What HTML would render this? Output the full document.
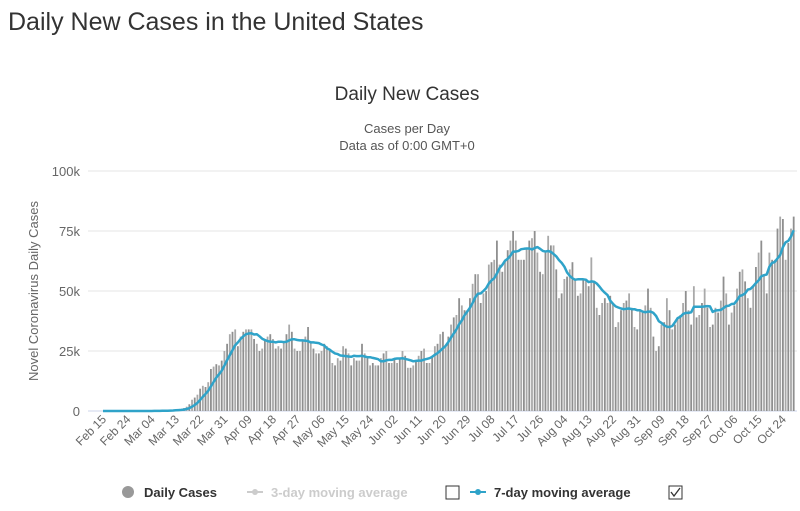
<!DOCTYPE html>
<html><head><meta charset="utf-8">
<style>
body{margin:0;width:800px;height:511px;background:#fff;overflow:hidden;font-family:"Liberation Sans",sans-serif}
#title{position:absolute;left:8px;top:8px;font-size:25px;color:#333}
svg{position:absolute;left:0;top:0}
</style></head>
<body>
<div id="title">Daily New Cases in the United States</div>
<svg id="chart" width="800" height="511">
<text x="407" y="100" text-anchor="middle" font-size="19" fill="#333">Daily New Cases</text>
<text x="407" y="133" text-anchor="middle" font-size="13" fill="#555">Cases per Day</text>
<text x="407" y="150" text-anchor="middle" font-size="13" fill="#555">Data as of 0:00 GMT+0</text>
<text transform="translate(38,291) rotate(-90)" text-anchor="middle" font-size="13" fill="#666">Novel Coronavirus Daily Cases</text>
<g id="grid"></g><g id="bars"></g><g id="line"></g><g id="xlabels"></g>
<g font-size="13" font-weight="bold">
<g><circle cx="128" cy="492" r="6" fill="#999"/><text x="144" y="497" fill="#333">Daily Cases</text></g>
<g><line x1="247" y1="492" x2="263" y2="492" stroke="#ccc" stroke-width="2"/><circle cx="255" cy="492" r="3" fill="#ccc"/><text x="271" y="497" fill="#ccc">3-day moving average</text></g>
<rect x="446" y="486" width="13" height="13" fill="#fff" stroke="#333"/>
<g><line x1="470" y1="492" x2="486" y2="492" stroke="#2fa3c9" stroke-width="2"/><circle cx="478" cy="492" r="3" fill="#2fa3c9"/><text x="494" y="497" fill="#333">7-day moving average</text></g>
<g><rect x="669" y="486" width="13" height="13" fill="#fff" stroke="#333"/><path d="M671 492 l3 4 l6 -8" fill="none" stroke="#333" stroke-width="1.3"/></g>
</g>
</svg>
<script>
const startDate = [2020, 1, 15];
const daily = [
0,0,0,0,0,0,0,0,0,0,0,0,0,0,0,
0.02,0.03,0.02,0.03,0.07,0.07,0.12,0.11,0.21,0.29,0.27,0.41,0.58,0.71,0.75,1.2,1.8,2.8,4.7,5.6,6.8,9.3,10.5,10,12,17.5,18.5,19.5,19,21,25,
28,32,33,34,27,31,33,34,34,34,30,28,25,26,30,31,32,30,26,27,26,29,32,36,33,26,25,25,29,31,
35,29,26,24,24,25,28,27,25,20,19,22,21,27,26,24,19,22,21,21,28,24,22,19,20,19,19,22,24,25,20,
20,22,20,22,25,23,18,18,19,21,23,25,26,20,20,23,27,28,32,33,27,31,36,39,40,47,44,42,42,47,
53,57,57,45,49,50,61,62,63,71,61,58,62,67,71,75,71,63,63,63,68,71,72,75,66,58,57,66,73,69,69,
59,47,49,55,56,59,62,55,48,49,55,55,52,64,54,43,40,45,47,45,48,45,35,37,42,45,46,49,43,35,34,
42,41,44,51,43,31,25,27,36,37,47,42,34,36,39,40,45,50,42,36,52,39,40,45,51,43,35,36,43,41,
46,56,49,36,41,44,51,58,59,54,47,43,52,60,66,71,57,49,66,63,63,76,81,80,63,70,76,81
];
const yTicks = [0,25,50,75,100];
const yTickLabels = ["0","25k","50k","75k","100k"];
const labelEvery = 9;
const months = ["Jan","Feb","Mar","Apr","May","Jun","Jul","Aug","Sep","Oct","Nov","Dec"];

const NS="http://www.w3.org/2000/svg";
const X0=103, DX=2.698, Y0=411, YPX=2.4, XR=797;
const xs=i=>X0+i*DX, ys=v=>Y0-v*YPX;
function mk(tag,attrs,parent){const e=document.createElementNS(NS,tag);for(const k in attrs)e.setAttribute(k,attrs[k]);parent.appendChild(e);return e;}
const grid=document.getElementById('grid');
yTicks.forEach((t,i)=>{
  const l=mk('line',{x1:88,x2:XR,y1:ys(t),y2:ys(t),stroke:i==0?'#ccd6eb':'#e6e6e6','stroke-width':1},grid);
  
  
  const tx=mk('text',{x:80,y:ys(t)+5,'text-anchor':'end','font-size':13,fill:'#666'},grid);
  tx.textContent=yTickLabels[i];
  
  
});
const bars=document.getElementById('bars');
daily.forEach((v,i)=>{
  const h=v*YPX;
  const r=mk('rect',{x:xs(i)-0.9,y:Y0-h,width:1.8,height:h,fill:i%2?'#a9a9a9':'#8f8f8f'},bars);
  
  
});
const avg=daily.map((v,i)=>{let s=0,n=0;for(let k=Math.max(0,i-6);k<=i;k++){s+=daily[k];n++;}return s/n;});
let d='';avg.forEach((v,i)=>{d+=(i?'L':'M')+xs(i).toFixed(1)+' '+ys(v).toFixed(1);});
const p=mk('path',{d:d,fill:'none',stroke:'#2fa3c9','stroke-width':2.5,'stroke-linejoin':'round'},document.getElementById('line'));


const xl=document.getElementById('xlabels');
const sd=new Date(startDate[0],startDate[1],startDate[2]);
for(let i=0;i<daily.length;i+=labelEvery){
  const dt=new Date(sd.getTime());dt.setDate(sd.getDate()+i);
  const lbl=months[dt.getMonth()]+' '+String(dt.getDate()).padStart(2,'0');
  const t=mk('text',{transform:`translate(${xs(i)+4},${420}) rotate(-45)`,'text-anchor':'end','font-size':12,fill:'#666'},xl);
  t.textContent=lbl;
  
  
}
</script>
</body></html>
